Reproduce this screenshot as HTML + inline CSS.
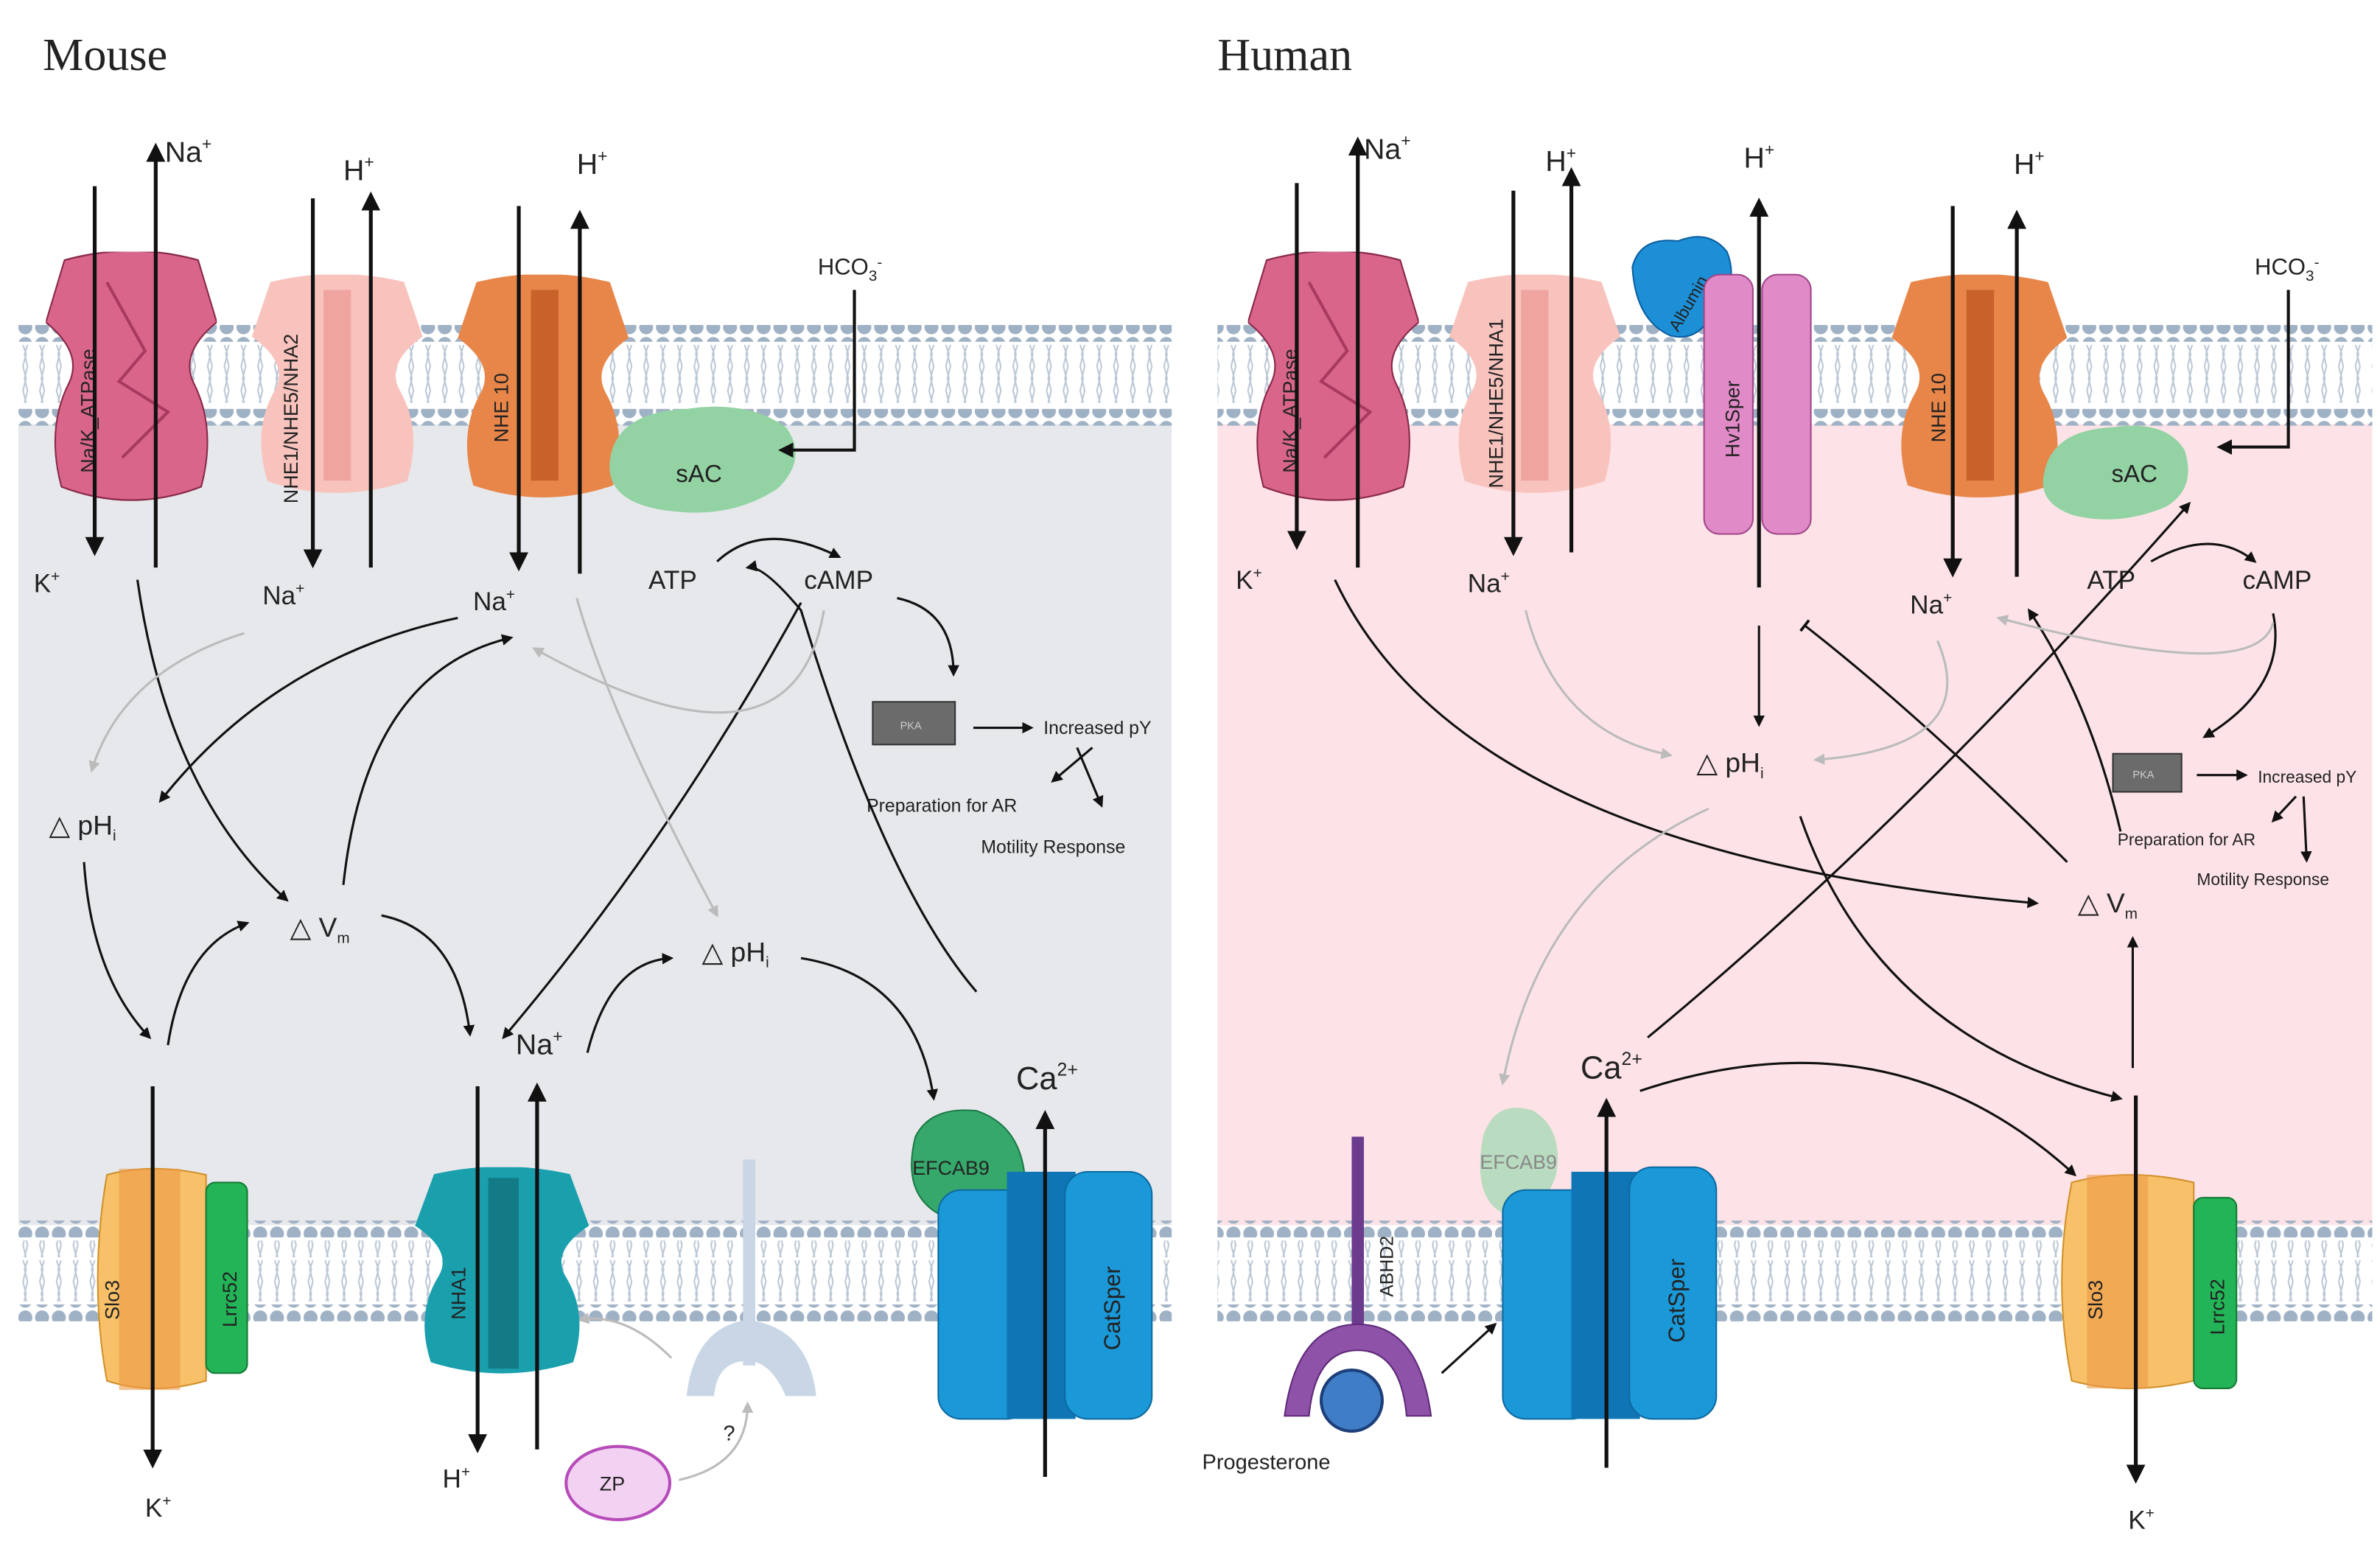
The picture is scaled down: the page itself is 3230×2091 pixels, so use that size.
<!DOCTYPE html>
<html><head><meta charset="utf-8"><style>
html,body{margin:0;padding:0;background:#fff}
svg{display:block}
text{font-family:"Liberation Sans",sans-serif;fill:#222}
</style></head><body>
<svg width="3230" height="2091" viewBox="0 0 1560 1010" xmlns="http://www.w3.org/2000/svg">
<defs>
<pattern id="heads" x="0" y="0" width="11" height="11" patternUnits="userSpaceOnUse"><circle cx="5.5" cy="5.5" r="4.6" fill="#9fb1c4"/></pattern>
<pattern id="tails" x="0" y="0" width="11" height="40" patternUnits="userSpaceOnUse"><path d="M4 0 L6 8 L4 16 L6 24 M7 0 L5 8 L7 16 L5 24" stroke="#bcc8d6" stroke-width="1" fill="none"/><path d="M4 40 L6 32 L4 26 M7 40 L5 32 L7 26" stroke="#bcc8d6" stroke-width="1" fill="none"/></pattern>
<marker id="a" viewBox="0 0 10 10" refX="8" refY="5" markerWidth="5" markerHeight="5" orient="auto"><path d="M0 0 L10 5 L0 10 Z" fill="#111"/></marker>
<marker id="g" viewBox="0 0 10 10" refX="8" refY="5" markerWidth="5" markerHeight="5" orient="auto"><path d="M0 0 L10 5 L0 10 Z" fill="#bbb"/></marker>
<marker id="t" viewBox="0 0 10 10" refX="5" refY="5" markerWidth="6" markerHeight="6" orient="auto"><path d="M5 0 L5 10" stroke="#111" stroke-width="2"/></marker>
<symbol id="tr" viewBox="0 0 110 150" preserveAspectRatio="none"><path d="M12 5 Q55 -6 98 5 L110 42 Q86 60 95 78 Q110 105 100 140 Q55 156 10 140 Q0 105 15 78 Q24 60 0 42 Z"/></symbol>
</defs>

<rect x="12" y="278" width="756" height="525" fill="#e6e8ec"/>
<rect x="12" y="213" width="756" height="11" fill="url(#heads)"/>
<rect x="12" y="226" width="756" height="40" fill="url(#tails)"/>
<rect x="12" y="268" width="756" height="11" fill="url(#heads)"/>
<rect x="12" y="800" width="756" height="11" fill="url(#heads)"/>
<rect x="12" y="813" width="756" height="40" fill="url(#tails)"/>
<rect x="12" y="855" width="756" height="11" fill="url(#heads)"/>

<rect x="798" y="278" width="757" height="525" fill="#fde3e7"/>
<rect x="798" y="213" width="757" height="11" fill="url(#heads)"/>
<rect x="798" y="226" width="757" height="40" fill="url(#tails)"/>
<rect x="798" y="268" width="757" height="11" fill="url(#heads)"/>
<rect x="798" y="800" width="757" height="11" fill="url(#heads)"/>
<rect x="798" y="813" width="757" height="40" fill="url(#tails)"/>
<rect x="798" y="855" width="757" height="11" fill="url(#heads)"/>

<text x="28" y="46" style="font-family:'Liberation Serif',serif;font-size:30px">Mouse</text>
<text x="798" y="46" style="font-family:'Liberation Serif',serif;font-size:30px">Human</text>

<use href="#tr" x="30" y="165" width="112" height="165" fill="#d9668a" stroke="#8a2a4a" stroke-width="1"/>
<path d="M70 185 L95 230 L78 250 L110 270 L80 300" stroke="#a83a60" fill="none" stroke-width="2"/>
<text transform="translate(62 310) rotate(-90)" font-size="13">Na/K_ATPase</text>
<use href="#tr" x="165" y="180" width="112" height="145" fill="#f8c3bd"/>
<rect x="212" y="190" width="18" height="125" fill="#f0a4a0"/>
<text transform="translate(195 330) rotate(-90)" font-size="13">NHE1/NHE5/NHA2</text>
<use href="#tr" x="300" y="180" width="112" height="148" fill="#e8864a"/>
<rect x="348" y="190" width="18" height="125" fill="#c8622a"/>
<text transform="translate(333 290) rotate(-90)" font-size="13">NHE 10</text>
<path d="M400 300 Q405 270 450 268 Q490 262 515 280 Q530 300 510 320 Q480 340 440 335 Q395 330 400 300Z" fill="#93d3a3"/>
<text x="443" y="316" font-size="16">sAC</text>
<text x="536" y="180" font-size="15">HCO<tspan font-size="10" dy="4">3</tspan><tspan font-size="10" dy="-9">-</tspan></text>
<path d="M560 190 L560 295 L512 295" stroke="#111" stroke-width="2" fill="none" marker-end="url(#a)"/>

<g stroke="#111" stroke-width="2.5" fill="none" marker-end="url(#a)">
<path d="M62 122 L62 362"/><path d="M102 372 L102 96"/>
<path d="M205 130 L205 370"/><path d="M243 372 L243 128"/>
<path d="M340 135 L340 372"/><path d="M380 376 L380 140"/>
</g>
<text x="108" y="106" font-size="19">Na<tspan font-size="11" dy="-8">+</tspan></text>
<text x="225" y="118" font-size="19">H<tspan font-size="11" dy="-8">+</tspan></text>
<text x="378" y="114" font-size="19">H<tspan font-size="11" dy="-8">+</tspan></text>
<text x="22" y="388" font-size="17">K<tspan font-size="10" dy="-7">+</tspan></text>
<text x="172" y="396" font-size="17">Na<tspan font-size="10" dy="-7">+</tspan></text>
<text x="310" y="400" font-size="17">Na<tspan font-size="10" dy="-7">+</tspan></text>
<text x="425" y="386" font-size="17">ATP</text>
<text x="527" y="386" font-size="17">cAMP</text>
<rect x="572" y="460" width="54" height="28" fill="#6b6b6b" stroke="#333"/>
<text x="590" y="478" font-size="7" style="fill:#ccc">PKA</text>
<text x="684" y="481" font-size="12">Increased pY</text>
<text x="568" y="532" font-size="12">Preparation for AR</text>
<text x="643" y="559" font-size="12">Motility Response</text>
<text x="32" y="547" font-size="18">△ pH<tspan font-size="10" dy="4">i</tspan></text>
<text x="190" y="614" font-size="18">△ V<tspan font-size="10" dy="4">m</tspan></text>
<text x="338" y="691" font-size="19">Na<tspan font-size="11" dy="-8">+</tspan></text>
<text x="460" y="630" font-size="18">△ pH<tspan font-size="10" dy="4">i</tspan></text>
<text x="666" y="714" font-size="21">Ca<tspan font-size="12" dy="-9">2+</tspan></text>

<g stroke="#111" stroke-width="1.5" fill="none" marker-end="url(#a)">
<path d="M470 368 Q500 340 550 365"/>
<path d="M588 392 Q625 400 625 442"/>
<path d="M638 477 L676 477"/>
<path d="M716 490 L690 512"/>
<path d="M706 490 L722 528"/>
<path d="M90 380 Q110 520 188 590"/>
<path d="M300 405 Q180 430 105 525"/>
<path d="M55 565 Q60 640 98 680"/>
<path d="M110 685 Q120 620 162 605"/>
<path d="M225 580 Q240 440 335 418"/>
<path d="M250 600 Q300 610 308 678"/>
<path d="M525 395 Q440 550 330 680"/>
<path d="M385 690 Q400 630 440 628"/>
<path d="M525 628 Q600 640 612 720"/>
<path d="M640 650 Q580 580 525 400 Q500 370 490 372"/>
</g>
<g stroke="#bbb" stroke-width="1.5" fill="none" marker-end="url(#g)">
<path d="M160 415 Q80 440 60 505"/>
<path d="M378 392 Q400 470 470 600"/>
<path d="M540 400 Q520 520 350 425"/>
<path d="M440 890 Q410 860 380 865"/>
<path d="M445 970 Q490 960 490 920"/>
</g>

<path d="M70 770 Q100 762 135 770 L135 905 Q100 915 70 905 Q58 840 70 770Z" fill="#f8c068" stroke="#d0902a"/>
<rect x="78" y="766" width="40" height="145" fill="#ee9a48" opacity="0.6"/>
<text transform="translate(78 865) rotate(-90)" font-size="13">Slo3</text>
<rect x="135" y="775" width="27" height="125" rx="6" fill="#22b457" stroke="#157a35"/>
<text transform="translate(155 870) rotate(-90)" font-size="13">Lrrc52</text>
<use href="#tr" x="272" y="765" width="114" height="137" fill="#1a9fad"/>
<rect x="320" y="772" width="20" height="125" fill="#137b86"/>
<text transform="translate(305 865) rotate(-90)" font-size="13">NHA1</text>
<rect x="487" y="760" width="8" height="135" fill="#c9d6e6"/>
<path d="M450 915 Q455 870 490 865 Q530 870 535 915 L515 915 Q505 892 490 892 Q470 892 468 915Z" fill="#c9d6e6"/>
<text x="474" y="944" font-size="14">?</text>
<ellipse cx="405" cy="972" rx="34" ry="24" fill="#f3d1f2" stroke="#b64cb9" stroke-width="2"/>
<text x="393" y="977" font-size="13">ZP</text>
<path d="M600 745 Q610 725 640 728 Q670 738 672 775 Q660 805 620 798 Q590 785 600 745Z" fill="#36a86b" stroke="#1c7a48"/>
<text x="598" y="770" font-size="13">EFCAB9</text>
<rect x="615" y="780" width="60" height="150" rx="15" fill="#1a98d8" stroke="#0d6aa0"/>
<rect x="660" y="768" width="45" height="162" fill="#1075b5"/>
<rect x="698" y="768" width="57" height="162" rx="15" fill="#1a98d8" stroke="#0d6aa0"/>
<text transform="translate(734 885) rotate(-90)" font-size="15">CatSper</text>
<g stroke="#111" stroke-width="2.5" fill="none" marker-end="url(#a)">
<path d="M100 712 L100 960"/>
<path d="M313 712 L313 950"/><path d="M352 950 L352 712"/>
<path d="M685 968 L685 730"/>
</g>
<text x="95" y="994" font-size="17">K<tspan font-size="10" dy="-7">+</tspan></text>
<text x="290" y="975" font-size="17">H<tspan font-size="10" dy="-7">+</tspan></text>

<use href="#tr" x="818" y="165" width="112" height="165" fill="#d9668a" stroke="#8a2a4a"/>
<path d="M858 185 L883 230 L866 250 L898 270 L868 300" stroke="#a83a60" fill="none" stroke-width="2"/>
<text transform="translate(850 310) rotate(-90)" font-size="13">Na/K_ATPase</text>
<use href="#tr" x="950" y="180" width="112" height="145" fill="#f8c3bd"/>
<rect x="997" y="190" width="18" height="125" fill="#f0a4a0"/>
<text transform="translate(985 320) rotate(-90)" font-size="13">NHE1/NHE5/NHA1</text>
<path d="M1070 175 Q1075 155 1100 158 Q1120 150 1132 165 Q1140 185 1125 200 Q1115 225 1095 220 Q1072 210 1070 175Z" fill="#1d8fd6" stroke="#0d5fa0"/>
<text transform="translate(1100 218) rotate(-60)" font-size="11">Albumin</text>
<rect x="1117" y="180" width="32" height="170" rx="10" fill="#e18ac8" stroke="#a0468a"/>
<rect x="1155" y="180" width="32" height="170" rx="10" fill="#e18ac8" stroke="#a0468a"/>
<text transform="translate(1140 300) rotate(-90)" font-size="13">Hv1Sper</text>
<use href="#tr" x="1240" y="180" width="115" height="148" fill="#e8864a"/>
<rect x="1289" y="190" width="18" height="125" fill="#c8622a"/>
<text transform="translate(1275 290) rotate(-90)" font-size="13">NHE 10</text>
<path d="M1340 310 Q1345 282 1385 280 Q1420 275 1432 295 Q1440 320 1420 332 Q1390 345 1360 338 Q1335 330 1340 310Z" fill="#93d3a3"/>
<text x="1384" y="316" font-size="16">sAC</text>
<text x="1478" y="180" font-size="15">HCO<tspan font-size="10" dy="4">3</tspan><tspan font-size="10" dy="-9">-</tspan></text>
<path d="M1500 190 L1500 293 L1455 293" stroke="#111" stroke-width="2" fill="none" marker-end="url(#a)"/>

<g stroke="#111" stroke-width="2.5" fill="none" marker-end="url(#a)">
<path d="M850 120 L850 358"/><path d="M890 372 L890 92"/>
<path d="M992 125 L992 362"/><path d="M1030 362 L1030 112"/>
<path d="M1153 385 L1153 132"/>
<path d="M1280 135 L1280 376"/><path d="M1322 378 L1322 140"/>
</g>
<text x="894" y="104" font-size="19">Na<tspan font-size="11" dy="-8">+</tspan></text>
<text x="1013" y="112" font-size="19">H<tspan font-size="11" dy="-8">+</tspan></text>
<text x="1143" y="110" font-size="19">H<tspan font-size="11" dy="-8">+</tspan></text>
<text x="1320" y="114" font-size="19">H<tspan font-size="11" dy="-8">+</tspan></text>
<text x="810" y="386" font-size="17">K<tspan font-size="10" dy="-7">+</tspan></text>
<text x="962" y="388" font-size="17">Na<tspan font-size="10" dy="-7">+</tspan></text>
<text x="1252" y="402" font-size="17">Na<tspan font-size="10" dy="-7">+</tspan></text>
<text x="1368" y="386" font-size="17">ATP</text>
<text x="1470" y="386" font-size="17">cAMP</text>
<rect x="1385" y="494" width="45" height="25" fill="#6b6b6b" stroke="#333"/>
<text x="1398" y="510" font-size="7" style="fill:#ccc">PKA</text>
<text x="1480" y="513" font-size="11">Increased pY</text>
<text x="1388" y="554" font-size="11">Preparation for AR</text>
<text x="1440" y="580" font-size="11">Motility Response</text>
<text x="1112" y="506" font-size="18">△ pH<tspan font-size="10" dy="4">i</tspan></text>
<text x="1362" y="598" font-size="18">△ V<tspan font-size="10" dy="4">m</tspan></text>
<text x="1036" y="707" font-size="21">Ca<tspan font-size="12" dy="-9">2+</tspan></text>
<text x="788" y="963" font-size="14">Progesterone</text>

<g stroke="#111" stroke-width="1.5" fill="none" marker-end="url(#a)">
<path d="M1410 368 Q1450 345 1478 368"/>
<path d="M1490 402 Q1500 450 1445 483"/>
<path d="M1440 508 L1472 508"/>
<path d="M1505 522 L1490 538"/>
<path d="M1510 522 L1512 564"/>
<path d="M1153 410 L1153 475"/>
<path d="M875 380 Q960 560 1335 592"/>
<path d="M1180 535 Q1230 680 1390 720"/>
<path d="M1080 680 Q1250 540 1435 330"/>
<path d="M1075 715 Q1240 660 1360 770"/>
<path d="M1398 700 L1398 615"/>
<path d="M1390 545 Q1370 460 1330 400"/>
<path d="M1355 565 Q1260 470 1183 410" marker-end="url(#t)"/>
<path d="M945 900 L980 868"/>
</g>
<g stroke="#bbb" stroke-width="1.5" fill="none" marker-end="url(#g)">
<path d="M1000 400 Q1020 480 1095 495"/>
<path d="M1270 420 Q1300 490 1190 498"/>
<path d="M1490 408 Q1480 450 1310 405"/>
<path d="M1120 530 Q1010 580 985 710"/>
</g>

<rect x="886" y="745" width="8" height="130" fill="#6b3b8e"/>
<text transform="translate(913 850) rotate(-90)" font-size="12">ABHD2</text>
<path d="M842 928 Q850 868 890 868 Q930 868 938 928 L922 928 Q918 885 890 885 Q862 885 858 928Z" fill="#8e52a8" stroke="#5e2a78"/>
<circle cx="886" cy="918" r="20" fill="#3f7ec6" stroke="#1d3f7a" stroke-width="2"/>
<path d="M972 745 Q980 720 1005 728 Q1025 740 1020 770 Q1010 800 985 795 Q965 785 972 745Z" fill="#a8d8b6" opacity="0.8"/>
<text x="970" y="766" font-size="13" style="fill:#888">EFCAB9</text>
<rect x="985" y="780" width="60" height="150" rx="15" fill="#1a98d8" stroke="#0d6aa0"/>
<rect x="1030" y="768" width="45" height="162" fill="#1075b5"/>
<rect x="1068" y="765" width="57" height="165" rx="15" fill="#1a98d8" stroke="#0d6aa0"/>
<text transform="translate(1104 880) rotate(-90)" font-size="15">CatSper</text>
<path d="M1358 775 Q1395 765 1438 775 L1438 905 Q1395 915 1358 905 Q1345 840 1358 775Z" fill="#f8c068" stroke="#d0902a"/>
<rect x="1368" y="770" width="40" height="140" fill="#ee9a48" opacity="0.6"/>
<text transform="translate(1378 865) rotate(-90)" font-size="13">Slo3</text>
<rect x="1438" y="785" width="28" height="125" rx="6" fill="#22b457" stroke="#157a35"/>
<text transform="translate(1458 875) rotate(-90)" font-size="13">Lrrc52</text>
<g stroke="#111" stroke-width="2.5" fill="none" marker-end="url(#a)">
<path d="M1053 962 L1053 722"/>
<path d="M1400 718 L1400 970"/>
</g>
<text x="1395" y="1002" font-size="17">K<tspan font-size="10" dy="-7">+</tspan></text>
</svg>
</body></html>
